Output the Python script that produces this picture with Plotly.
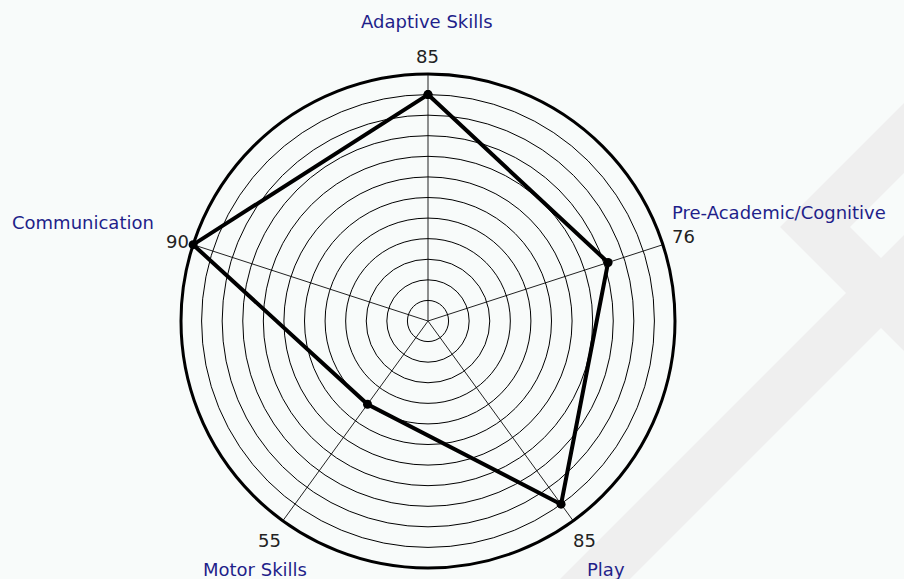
import plotly.graph_objects as go

categories = ["Adaptive Skills", "Pre-Academic/Cognitive", "Play", "Motor Skills", "Communication"]
scores = [85, 76, 85, 55, 90]
r_min, r_max, r_step = 30, 90, 5

W, H = 904, 579
cx, cy, R = 428, 321, 247

def px(x):
    return x / W

def py(y):
    return 1 - y / H

fig = go.Figure()

fig.add_trace(go.Scatterpolar(
    r=scores + scores[:1],
    theta=categories + categories[:1],
    mode="lines+markers",
    line=dict(color="black", width=4),
    marker=dict(color="black", size=9),
    showlegend=False,
    hoverinfo="skip",
))

# faint watermark bands
wm = "#efefef"
shapes = []
for poly in [
    [(780, 227), (904, 103), (904, 173), (850, 227), (904, 281), (904, 351)],
    [(560, 579), (630, 579), (904, 305), (904, 235)],
]:
    path = "M " + " L ".join(f"{px(x)},{py(y)}" for x, y in poly) + " Z"
    shapes.append(dict(type="path", path=path, xref="paper", yref="paper",
                       fillcolor=wm, line=dict(width=0), layer="below"))

name_color = "#1f1f8a"
num_color = "#222222"
fnt = "DejaVu Sans"
fs = 18

name_pos = {
    "Adaptive Skills": (427, 21, "center"),
    "Pre-Academic/Cognitive": (670, 212, "left"),
    "Play": (606, 569, "center"),
    "Motor Skills": (255, 569, "center"),
    "Communication": (10, 222, "left"),
}
val_pos = {
    "Adaptive Skills": (427, 56, "center"),
    "Pre-Academic/Cognitive": (670, 236, "left"),
    "Play": (584, 540, "center"),
    "Motor Skills": (269, 540, "center"),
    "Communication": (177, 241, "center"),
}

annotations = []
for cat, val in zip(categories, scores):
    x, y, a = name_pos[cat]
    annotations.append(dict(x=px(x), y=py(y), xref="paper", yref="paper", text=cat,
                            showarrow=False, xanchor=a, yanchor="middle",
                            font=dict(family=fnt, size=fs, color=name_color)))
    x, y, a = val_pos[cat]
    annotations.append(dict(x=px(x), y=py(y), xref="paper", yref="paper", text=str(val),
                            showarrow=False, xanchor=a, yanchor="middle",
                            font=dict(family=fnt, size=fs, color=num_color)))

fig.update_layout(
    width=W, height=H,
    margin=dict(l=0, r=0, t=0, b=0),
    paper_bgcolor="#f8fbfa",
    plot_bgcolor="#f8fbfa",
    shapes=shapes,
    annotations=annotations,
    polar=dict(
        domain=dict(x=[px(cx - R), px(cx + R)], y=[py(cy + R), py(cy - R)]),
        bgcolor="rgba(0,0,0,0)",
        radialaxis=dict(range=[r_min, r_max], tick0=r_min, dtick=r_step,
                        showticklabels=False, ticks="", showline=False,
                        gridcolor="black", gridwidth=1.3),
        angularaxis=dict(rotation=90, direction="clockwise", showticklabels=False,
                         ticks="", showline=True, linecolor="black", linewidth=3,
                         gridcolor="#222222", gridwidth=1),
    ),
)

fig.write_html("out.html", config={"displayModeBar": False},
               post_script="document.body.style.margin='0px';document.body.style.padding='0px';")
